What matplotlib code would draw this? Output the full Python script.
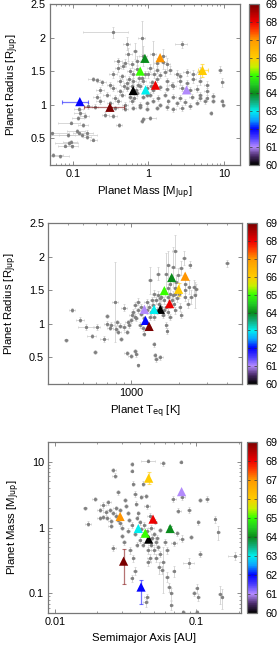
import matplotlib
matplotlib.use("Agg")
import matplotlib.pyplot as plt
import numpy as np
from matplotlib.colors import LinearSegmentedColormap, Normalize
from matplotlib.ticker import LogLocator, NullFormatter, FuncFormatter, FixedLocator
import matplotlib.cm as cm

plt.rcParams['font.family'] = ['Liberation Sans', 'DejaVu Sans']

# ---------------- data ----------------
# Panel 1: planet mass vs radius (background sample)
p1_mass = [0.053, 0.055, 0.068, 0.079, 0.088, 0.094, 0.097, 0.086, 0.115, 0.122, 0.132, 0.153, 0.156, 0.188,
           0.094, 0.119, 0.125, 0.12, 0.146, 0.188, 0.207, 0.27, 0.345, 0.414, 0.338, 0.518, 0.817, 2.76,
           0.544, 0.667, 0.859, 1.16, 1.58, 1.75, 0.401, 0.492, 0.602, 0.716, 1.29, 1.58, 0.401, 0.468,
           0.573, 0.701, 1.05, 1.29, 1.93, 8.85, 0.345, 0.444, 0.634, 0.817, 1.0, 1.43, 1.66, 2.37, 3.21,
           3.94, 4.82, 2.62, 0.242, 0.311, 0.423, 0.518, 0.634, 0.738, 0.859, 1.11, 1.29, 1.75, 2.03, 2.62,
           3.21, 3.94, 4.82, 5.9, 0.23, 0.345, 0.423, 0.518, 0.776, 0.951, 1.16, 1.43, 1.75, 2.14, 2.76,
           3.56, 4.36, 5.9, 4.82, 0.207, 0.281, 0.362, 0.444, 0.573, 0.701, 0.859, 1.05, 1.36, 1.66, 2.14,
           2.62, 3.74, 5.9, 7.23, 4.82, 0.23, 0.311, 0.401, 0.492, 0.602, 0.776, 0.951, 1.16, 1.43, 1.84,
           2.37, 3.05, 4.36, 5.61, 7.23, 9.31, 9.8, 0.161, 0.197, 0.362, 0.492, 0.634, 0.776, 0.951, 1.29,
           1.75, 2.14, 2.76, 3.56, 0.859, 0.817, 1.05, 6.73, 0.138, 0.55, 0.68, 0.9, 0.6, 0.75, 1.2, 0.48,
           0.95, 1.1, 0.65, 9.5]
p1_radius = [0.57, 0.25, 0.23, 0.39, 0.43, 0.45, 0.38, 0.55, 0.60, 0.58, 0.55, 0.58, 0.52, 0.48,
             0.73, 0.80, 0.88, 0.94, 0.83, 1.38, 1.37, 0.85, 0.83, 0.69, 2.08, 1.91, 2.0, 1.9,
             1.75, 1.80, 1.72, 1.75, 1.73, 1.60, 1.65, 1.62, 1.60, 1.65, 1.62, 1.63, 1.55, 1.58,
             1.50, 1.53, 1.55, 1.52, 1.52, 1.52, 1.45, 1.42, 1.45, 1.40, 1.45, 1.44, 1.48, 1.46, 1.48,
             1.45, 1.48, 1.42, 1.33, 1.30, 1.35, 1.32, 1.35, 1.30, 1.35, 1.33, 1.38, 1.35, 1.30, 1.35,
             1.32, 1.38, 1.35, 1.30, 1.22, 1.25, 1.20, 1.25, 1.28, 1.25, 1.22, 1.26, 1.24, 1.28, 1.25,
             1.22, 1.24, 1.20, 1.15, 1.12, 1.15, 1.10, 1.15, 1.12, 1.17, 1.12, 1.15, 1.10, 1.15, 1.12,
             1.10, 1.12, 1.10, 1.13, 1.10, 1.05, 1.02, 1.05, 1.00, 1.05, 1.00, 1.02, 1.06, 1.00, 1.05,
             1.02, 1.04, 1.03, 1.05, 1.06, 1.05, 1.00, 0.98, 0.97, 0.95, 0.94, 0.95, 0.97, 0.94, 0.95,
             0.96, 0.93, 0.95, 0.98, 0.78, 0.76, 0.80, 0.87, 0.70, 1.38, 1.22, 1.45, 1.28, 1.40, 1.45, 1.28,
             1.15, 1.28, 1.10, 1.33]
p1_mass_err = [0.035, 0.02, 0.02, 0.015, 0.03, 0.02, 0.02, 0.02, 0.03, 0.02, 0.08, 0.03, 0.02, 0.02,
               0.03, 0.02, 0.02, 0.015, 0.02, 0.03, 0.02, 0.03, 0.04, 0.04, 0.2, 0.05, 0.08, 0.5,
               0.06, 0.05, 0.1, 0.1, 0.15, 0.2, 0.05, 0.05, 0.05, 0.06, 0.1, 0.12, 0.04, 0.04,
               0.05, 0.06, 0.08, 0.1, 0.15, 0.5, 0.04, 0.04, 0.05, 0.06, 0.08, 0.1, 0.1, 0.2, 0.3,
               0.3, 0.4, 0.2, 0.03, 0.03, 0.04, 0.04, 0.05, 0.05, 0.06, 0.08, 0.08, 0.1, 0.15, 0.2,
               0.2, 0.3, 0.3, 0.4, 0.03, 0.03, 0.04, 0.04, 0.05, 0.06, 0.08, 0.08, 0.1, 0.15, 0.2,
               0.25, 0.3, 0.4, 0.3, 0.02, 0.03, 0.03, 0.04, 0.04, 0.05, 0.05, 0.06, 0.08, 0.1, 0.15,
               0.15, 0.25, 0.3, 0.4, 0.3, 0.03, 0.03, 0.04, 0.04, 0.05, 0.05, 0.06, 0.08, 0.08, 0.1,
               0.15, 0.2, 0.25, 0.3, 0.4, 0.4, 0.4, 0.02, 0.02, 0.03, 0.04, 0.05, 0.05, 0.06, 0.08,
               0.1, 0.15, 0.2, 0.2, 0.04, 0.04, 0.2, 0.3, 0.02, 0.05, 0.05, 0.06, 0.05, 0.05, 0.08, 0.04,
               0.06, 0.08, 0.05, 0.4]
p1_radius_err = [0.02, 0.03, 0.02, 0.02, 0.03, 0.02, 0.02, 0.03, 0.03, 0.02, 0.03, 0.04, 0.03, 0.02,
                 0.02, 0.03, 0.04, 0.03, 0.03, 0.03, 0.03, 0.04, 0.03, 0.03, 0.08, 0.1, 0.25, 0.05,
                 0.1, 0.12, 0.15, 0.2, 0.1, 0.1, 0.05, 0.06, 0.05, 0.08, 0.08, 0.1, 0.06, 0.05,
                 0.05, 0.06, 0.06, 0.05, 0.06, 0.05, 0.05, 0.04, 0.05, 0.05, 0.05, 0.05, 0.05, 0.06, 0.05,
                 0.06, 0.08, 0.05, 0.04, 0.04, 0.05, 0.04, 0.04, 0.04, 0.04, 0.04, 0.05, 0.05, 0.04, 0.05,
                 0.04, 0.06, 0.05, 0.05, 0.04, 0.04, 0.04, 0.04, 0.04, 0.04, 0.04, 0.04, 0.04, 0.05, 0.04,
                 0.04, 0.05, 0.05, 0.04, 0.04, 0.04, 0.04, 0.04, 0.04, 0.04, 0.04, 0.04, 0.04, 0.04, 0.04,
                 0.04, 0.04, 0.04, 0.04, 0.04, 0.04, 0.03, 0.04, 0.04, 0.04, 0.04, 0.04, 0.04, 0.03, 0.04,
                 0.04, 0.04, 0.04, 0.04, 0.04, 0.04, 0.04, 0.04, 0.04, 0.03, 0.03, 0.03, 0.03, 0.03, 0.03,
                 0.04, 0.04, 0.04, 0.04, 0.03, 0.03, 0.03, 0.03, 0.03, 0.05, 0.04, 0.05, 0.04, 0.05, 0.05, 0.04,
                 0.04, 0.04, 0.04, 0.06]

# Panel 2: equilibrium temperature vs radius
p2_teq = [389, 423, 477, 520, 606, 592, 564, 674, 790, 700, 735, 810, 829, 900, 935, 990, 1054, 1080, 1101,
          1407, 1441, 1527, 1387, 935, 862, 972, 1005, 1029, 1054, 1106, 1080, 1133, 1189, 1248, 1309, 1341,
          1374, 1441, 1477, 1513, 1550, 1587, 1665, 1689, 1626, 1706, 1747, 1765, 1833, 1878, 1924, 1971,
          2068, 2149, 2334, 2019, 2068, 2170, 2278, 2389, 2484, 2566, 2510, 1878, 1706, 1833, 1665, 1477,
          1309, 4018, 1150, 1200, 1250, 1300, 1350, 1400, 1450, 1500, 1550, 1600, 1650, 1700, 1750, 1800,
          1850, 1900, 1950, 2000, 1100, 1050, 1000, 950, 900, 850, 800, 750, 700, 1200, 1300, 1250, 1150,
          2300, 2200, 1600, 1400, 1700, 1750, 1900, 2200]
p2_radius = [0.75, 1.21, 1.06, 0.95, 0.95, 0.58, 0.81, 0.77, 1.32, 1.12, 0.94, 1.02, 0.88, 1.24, 0.57, 0.52,
             0.60, 0.55, 0.38, 0.53, 0.47, 0.50, 0.69, 0.87, 0.77, 0.98, 1.13, 1.18, 1.28, 1.33, 1.08, 0.98,
             0.93, 1.03, 1.10, 1.18, 1.28, 1.35, 1.43, 1.38, 1.25, 1.13, 0.98, 0.89, 1.48, 1.53, 1.60, 1.28,
             1.43, 1.53, 1.63, 1.73, 1.83, 1.98, 1.88, 1.25, 1.13, 1.40, 1.30, 1.40, 1.55, 1.52, 1.43, 2.08,
             1.88, 1.85, 1.75, 1.75, 1.65, 1.90, 1.15, 1.08, 1.20, 1.25, 1.35, 1.10, 1.20, 1.30, 1.40, 1.35,
             1.25, 1.40, 1.45, 1.35, 1.30, 1.45, 1.38, 1.45, 1.20, 1.10, 1.05, 1.02, 0.95, 0.97, 0.92, 0.98,
             1.00, 0.85, 0.95, 1.32, 1.25, 1.55, 1.50, 1.20, 1.45, 1.18, 1.10, 1.20, 1.60]
p2_teq_err = [10, 20, 30, 60, 30, 15, 40, 40, 30, 20, 30, 30, 30, 40, 30, 30, 30, 30, 20,
              30, 40, 60, 30, 30, 30, 30, 30, 30, 30, 30, 30, 30, 30, 30, 40, 40,
              40, 40, 40, 40, 40, 40, 40, 30, 40, 40, 40, 40, 50, 50, 50, 50,
              60, 60, 50, 50, 50, 50, 60, 60, 60, 60, 60, 60, 50, 50, 50, 40,
              40, 100, 30, 30, 30, 40, 40, 40, 40, 40, 40, 40, 40, 40, 50, 50,
              50, 50, 50, 50, 30, 30, 30, 30, 30, 30, 30, 30, 30, 30, 40, 40, 30,
              60, 60, 40, 40, 40, 50, 50, 60]
p2_radius_err = [0.02, 0.03, 0.04, 0.05, 0.04, 0.03, 0.03, 0.04, 0.6, 0.03, 0.03, 0.04, 0.03, 0.05, 0.03, 0.03,
                 0.03, 0.04, 0.02, 0.03, 0.04, 0.04, 0.03, 0.03, 0.03, 0.04, 0.04, 0.04, 0.05, 0.05, 0.04, 0.04,
                 0.04, 0.04, 0.04, 0.05, 0.05, 0.05, 0.06, 0.05, 0.05, 0.05, 0.04, 0.04, 0.06, 0.06, 0.08, 0.05,
                 0.06, 0.08, 0.1, 0.1, 0.1, 0.1, 0.05, 0.06, 0.05, 0.06, 0.07, 0.1, 0.1, 0.08, 0.2, 0.25,
                 0.2, 0.3, 0.3, 0.1, 0.2, 0.05, 0.04, 0.04, 0.05, 0.05, 0.05, 0.04, 0.05, 0.05, 0.06, 0.05,
                 0.05, 0.06, 0.06, 0.05, 0.05, 0.06, 0.05, 0.06, 0.04, 0.04, 0.04, 0.04, 0.04, 0.04, 0.04, 0.04,
                 0.04, 0.04, 0.04, 0.05, 0.05, 0.1, 0.08, 0.05, 0.05, 0.05, 0.04, 0.05, 0.1]

# Panel 3: semimajor axis vs mass
p3_axis = [0.0163, 0.0172, 0.0192, 0.0208, 0.022, 0.024, 0.0245, 0.026, 0.0266, 0.0281, 0.0208, 0.022, 0.0235,
           0.025, 0.026, 0.0272, 0.0289, 0.0313, 0.032, 0.0329, 0.0336, 0.035, 0.035, 0.036, 0.0369, 0.0378,
           0.039, 0.040, 0.041, 0.042, 0.0423, 0.044, 0.045, 0.047, 0.0459, 0.049, 0.051, 0.0556, 0.058, 0.06,
           0.069, 0.07, 0.075, 0.078, 0.08, 0.0889, 0.0889, 0.097, 0.101, 0.104, 0.107, 0.104, 0.119, 0.107,
           0.0915, 0.079, 0.073, 0.1365, 0.144, 0.148, 0.152, 0.189, 0.0693, 0.062, 0.064, 0.067, 0.067,
           0.058, 0.055, 0.052, 0.05, 0.048, 0.046, 0.0448, 0.044, 0.036, 0.037, 0.026, 0.035, 0.0813, 0.101,
           0.03, 0.033, 0.035, 0.037, 0.038, 0.04, 0.042, 0.043, 0.045, 0.046, 0.048, 0.05, 0.052, 0.054,
           0.056, 0.038, 0.03, 0.028, 0.025, 0.031, 0.034, 0.027, 0.023, 0.029, 0.041, 0.047, 0.053, 0.057,
           0.062, 0.065]
p3_mass = [1.96, 1.14, 2.72, 1.86, 2.2, 2.4, 1.86, 7.48, 6.1, 3.4, 1.38, 1.45, 1.38,
           1.25, 1.65, 1.5, 1.86, 2.65, 2.1, 1.65, 1.31, 9.2, 7.3, 4.6, 3.25, 2.3,
           1.65, 1.2, 0.95, 0.78, 4.6, 3.0, 2.1, 1.5, 10.3, 0.7, 1.23, 0.92, 9.5, 0.6,
           2.7, 0.58, 1.8, 10.0, 2.9, 1.86, 0.29, 0.1, 0.12, 0.088, 0.4, 1.2, 2.7, 2.6,
           0.72, 0.68, 0.82, 1.33, 0.84, 0.098, 0.088, 0.375, 0.22, 0.18, 0.125, 0.1, 0.067,
           0.3, 0.25, 0.35, 0.45, 0.55, 0.3, 0.088, 0.073, 0.34, 0.22, 0.49, 0.17, 0.052, 0.052,
           1.0, 0.9, 1.1, 0.8, 1.4, 0.65, 0.55, 1.1, 0.9, 0.45, 1.0, 0.8, 0.6, 0.5,
           0.4, 0.55, 0.75, 1.3, 1.05, 0.6, 0.45, 2.0, 1.7, 1.15, 2.9, 0.35, 0.7, 0.23,
           0.45, 1.0]
p3_axis_err = [0.0005, 0.0008, 0.0008, 0.001, 0.001, 0.001, 0.001, 0.001, 0.001, 0.001, 0.001, 0.001, 0.001,
               0.001, 0.001, 0.001, 0.001, 0.001, 0.001, 0.001, 0.001, 0.001, 0.001, 0.001, 0.001, 0.001,
               0.001, 0.001, 0.001, 0.001, 0.001, 0.002, 0.002, 0.002, 0.005, 0.002, 0.002, 0.002, 0.002, 0.002,
               0.003, 0.003, 0.003, 0.002, 0.003, 0.003, 0.008, 0.003, 0.003, 0.003, 0.003, 0.003, 0.004, 0.004,
               0.003, 0.003, 0.003, 0.003, 0.003, 0.004, 0.003, 0.02, 0.002, 0.002, 0.002, 0.002, 0.002,
               0.002, 0.002, 0.002, 0.002, 0.002, 0.002, 0.002, 0.002, 0.001, 0.001, 0.001, 0.001, 0.002, 0.002,
               0.001, 0.001, 0.001, 0.001, 0.001, 0.001, 0.001, 0.001, 0.002, 0.002, 0.002, 0.002, 0.002, 0.002,
               0.002, 0.001, 0.001, 0.001, 0.001, 0.001, 0.001, 0.001, 0.001, 0.001, 0.001, 0.002, 0.002, 0.002,
               0.002, 0.002]
p3_mass_err = [0.1, 0.1, 0.2, 0.15, 0.2, 0.2, 0.15, 0.5, 0.5, 0.3, 0.1, 0.1, 0.1,
               0.1, 0.1, 0.1, 0.15, 0.2, 0.15, 0.1, 0.1, 0.5, 0.4, 0.4, 0.3, 0.2,
               0.15, 0.1, 0.08, 0.06, 0.4, 0.2, 0.2, 0.15, 0.6, 0.06, 0.1, 0.08, 0.8, 0.06,
               0.3, 0.05, 0.15, 0.5, 0.3, 0.2, 0.05, 0.01, 0.02, 0.01, 0.04, 0.1, 0.3, 0.2,
               0.06, 0.08, 0.08, 0.15, 0.2, 0.03, 0.03, 0.05, 0.04, 0.03, 0.02, 0.02, 0.01,
               0.2, 0.05, 0.05, 0.05, 0.05, 0.04, 0.01, 0.01, 0.04, 0.03, 0.05, 0.02, 0.005, 0.005,
               0.08, 0.08, 0.1, 0.06, 0.1, 0.06, 0.05, 0.1, 0.08, 0.05, 0.08, 0.06, 0.05, 0.05,
               0.04, 0.05, 0.06, 0.1, 0.08, 0.05, 0.05, 0.15, 0.15, 0.1, 0.2, 0.04, 0.06, 0.03,
               0.05, 0.08]

# Highlighted planets (colour value 60..69)
hl_value = [60, 61, 62, 63, 64, 65, 66, 67, 68, 69]
hl_mass_p1 = [0.63, 3.2, 0.124, 0.92, 0.90, 0.78, 5.2, 1.43, 1.24, 0.31]
hl_radius_p1 = [1.21, 1.22, 1.045, 1.22, 1.69, 1.50, 1.51, 1.70, 1.29, 0.96]
hl_mass_lo_p1 = [0.0, 0.0, 0.053, 0.0, 0.0, 0.0, 0.6, 0.0, 0.0, 0.17]
hl_mass_hi_p1 = [0.0, 0.0, 0.036, 0.0, 0.0, 0.0, 0.9, 0.0, 0.0, 0.17]
hl_radius_e_p1 = [0.0, 0.0, 0.0, 0.0, 0.0, 0.0, 0.1, 0.0, 0.0, 0.0]

hl_teq_p2 = [1527, 1212, 1230, 1394, 1801, 1618, 1992, 2190, 1747, 1297]
hl_radius_p2 = [1.215, 1.215, 1.05, 1.215, 1.69, 1.495, 1.515, 1.71, 1.30, 0.96]
hl_radius_e_p2 = [0.0, 0.0, 0.0, 0.0, 0.0, 0.0, 0.1, 0.0, 0.0, 0.0]

hl_axis_p3 = [0.0462, 0.079, 0.0408, 0.039, 0.0655, 0.0437, 0.0462, 0.029, 0.0496, 0.0307]
hl_mass_p3 = [0.666, 3.5, 0.125, 0.966, 0.966, 0.82, 5.6, 1.47, 1.34, 0.309]
hl_mass_lo_p3 = [0.0, 0.0, 0.055, 0.0, 0.1, 0.0, 1.0, 0.0, 0.0, 0.17]
hl_mass_hi_p3 = [0.0, 0.0, 0.035, 0.0, 0.1, 0.0, 1.3, 0.0, 0.0, 0.17]

cbar_ticks = [60, 61, 62, 63, 64, 65, 66, 67, 68, 69]

# ---------------- styling ----------------
cmap = LinearSegmentedColormap.from_list(
    "gp", [(0.0, "#000000"), (1/18, "#4a2a6a"), (1/9, "#b58cff"), (1.5/9, "#4a3cff"),
           (2/9, "#0000ff"), (2.5/9, "#0aa0ff"), (3/9, "#00f0f0"), (3.5/9, "#10b080"),
           (4/9, "#0a8a1a"), (4.5/9, "#22cc22"), (5/9, "#33ff00"), (5.5/9, "#c8f000"),
           (6/9, "#ffcc00"), (7/9, "#ff9900"), (7.5/9, "#ff4400"), (8/9, "#ee0000"),
           (1.0, "#7a0000")])
norm = Normalize(vmin=60, vmax=69)

W, H = 280, 646
fig = plt.figure(figsize=(W / 100, H / 100), dpi=100)

FS = 7.8
GREY_ERR = "#cdcdcd"
GREY_PT = "#808080"
FRAME = "#777777"


def rect(x0, y0, x1, y1):
    return [x0 / W, 1 - y1 / H, (x1 - x0) / W, (y1 - y0) / H]


def fmt_g(v, pos):
    return "%g" % v


def style_axes(ax):
    for s in ax.spines.values():
        s.set_color(FRAME)
        s.set_linewidth(0.9)
    ax.tick_params(which="both", direction="in", top=True, right=True, labelsize=FS,
                   color=FRAME, pad=3)
    ax.tick_params(which="major", length=3, width=0.6)
    ax.tick_params(which="minor", length=1.6, width=0.5)


def add_cbar(pos, pad):
    cax = fig.add_axes(pos)
    cb = fig.colorbar(cm.ScalarMappable(norm=norm, cmap=cmap), cax=cax, ticks=cbar_ticks)
    cb.outline.set_edgecolor(FRAME)
    cb.outline.set_linewidth(0.9)
    cax.tick_params(direction="in", length=2, width=0.5, left=True, right=True,
                    labelsize=FS, color="#333333", pad=pad)
    return cb


def draw_highlights(ax, x, y, xerr, yerr):
    for i in range(len(x)):
        col = cmap(norm(hl_value[i]))
        xe = None if xerr is None else [[xerr[0][i]], [xerr[1][i]]]
        ye = None if yerr is None else [[yerr[0][i]], [yerr[1][i]]]
        has = (xe is not None and (xe[0][0] > 0 or xe[1][0] > 0)) or \
              (ye is not None and (ye[0][0] > 0 or ye[1][0] > 0))
        if has:
            ax.errorbar([x[i]], [y[i]], xerr=xe, yerr=ye, fmt="none", ecolor=col,
                        alpha=0.55, elinewidth=0.9, capsize=1.5, capthick=0.8, zorder=4)
    ax.scatter(x, y, c=hl_value, cmap=cmap, norm=norm, marker="^", s=44,
               edgecolors="none", zorder=5)


def draw_background(ax, x, y, xe, ye):
    ax.errorbar(x, y, xerr=xe, yerr=ye, fmt="o", ms=1.4, mfc=GREY_PT, mec=GREY_PT,
                ecolor=GREY_ERR, elinewidth=0.55, capsize=1.0, capthick=0.5, zorder=2)


# ---------- Panel 1 ----------
ax1 = fig.add_axes(rect(50, 4, 240, 165))
draw_background(ax1, p1_mass, p1_radius, p1_mass_err, p1_radius_err)
draw_highlights(ax1, hl_mass_p1, hl_radius_p1,
                [hl_mass_lo_p1, hl_mass_hi_p1], [hl_radius_e_p1, hl_radius_e_p1])
ax1.set_xscale("log")
ax1.set_xlim(0.05, 16.3)
ax1.set_ylim(0.1, 2.5)
ax1.yaxis.set_major_locator(FixedLocator([0.5, 1, 1.5, 2, 2.5]))
ax1.yaxis.set_major_formatter(FuncFormatter(fmt_g))
ax1.xaxis.set_major_locator(LogLocator(base=10))
ax1.xaxis.set_minor_locator(LogLocator(base=10, subs=np.arange(2, 10)))
ax1.xaxis.set_major_formatter(FuncFormatter(fmt_g))
ax1.xaxis.set_minor_formatter(NullFormatter())
style_axes(ax1)
ax1.set_xlabel(r"Planet Mass [M$_{\mathrm{Jup}}$]", fontsize=FS + 0.4, labelpad=4)
ax1.set_ylabel(r"Planet Radius [R$_{\mathrm{Jup}}$]", fontsize=FS + 0.4, labelpad=7)
add_cbar(rect(249.3, 4, 259.3, 165), pad=4.5)

# ---------- Panel 2 ----------
ax2 = fig.add_axes(rect(48.3, 223.3, 242, 384))
draw_background(ax2, p2_teq, p2_radius, p2_teq_err, p2_radius_err)
draw_highlights(ax2, hl_teq_p2, hl_radius_p2, None, [hl_radius_e_p2, hl_radius_e_p2])
ax2.set_xscale("log")
ax2.set_xlim(300, 5000)
ax2.set_ylim(0.1, 2.5)
ax2.yaxis.set_major_locator(FixedLocator([0.5, 1, 1.5, 2, 2.5]))
ax2.yaxis.set_major_formatter(FuncFormatter(fmt_g))
ax2.xaxis.set_major_locator(FixedLocator([1000]))
ax2.xaxis.set_minor_locator(FixedLocator([300, 400, 500, 600, 700, 800, 900, 2000, 3000, 4000]))
ax2.xaxis.set_major_formatter(FuncFormatter(fmt_g))
ax2.xaxis.set_minor_formatter(NullFormatter())
style_axes(ax2)
ax2.set_xlabel(r"Planet T$_{\mathrm{eq}}$ [K]", fontsize=FS + 0.4, labelpad=4)
ax2.set_ylabel(r"Planet Radius [R$_{\mathrm{Jup}}$]", fontsize=FS + 0.4, labelpad=7)
add_cbar(rect(246.7, 223.3, 256.7, 384), pad=6)

# ---------- Panel 3 ----------
ax3 = fig.add_axes(rect(48.3, 441.7, 240.7, 613.3))
draw_background(ax3, p3_axis, p3_mass, p3_axis_err, p3_mass_err)
draw_highlights(ax3, hl_axis_p3, hl_mass_p3, None, [hl_mass_lo_p3, hl_mass_hi_p3])
ax3.set_xscale("log")
ax3.set_yscale("log")
ax3.set_xlim(0.009, 0.207)
ax3.set_ylim(0.05, 20)
for axis in (ax3.xaxis, ax3.yaxis):
    axis.set_major_locator(LogLocator(base=10))
    axis.set_minor_locator(LogLocator(base=10, subs=np.arange(2, 10)))
    axis.set_major_formatter(FuncFormatter(fmt_g))
    axis.set_minor_formatter(NullFormatter())
style_axes(ax3)
ax3.set_xlabel("Semimajor Axis [AU]", fontsize=FS + 0.4, labelpad=4)
ax3.set_ylabel(r"Planet Mass [M$_{\mathrm{Jup}}$]", fontsize=FS + 0.4, labelpad=5)
add_cbar(rect(246.7, 441.7, 256.7, 613.3), pad=6)

fig.savefig("out.png", dpi=100)
